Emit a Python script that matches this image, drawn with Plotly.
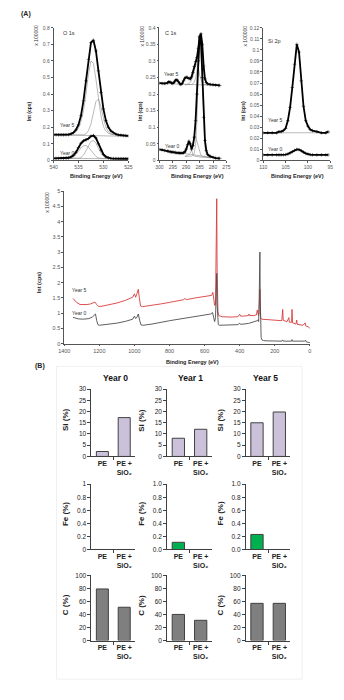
import plotly.graph_objects as go

W, H = 344, 700
FONT = "Liberation Sans, Arial, sans-serif"

def px(x):
    return x / W

def py(y):
    return 1 - y / H

# ---------------- DATA ----------------
# O 1s (binding energy, eV)
o_x = [540, 539.5, 539, 538.5, 538, 537.5, 537, 536.5, 536, 535.5, 535, 534.5, 534, 533.5, 533,
       532.5, 532, 531.5, 531, 530.5, 530, 529.5, 529, 528.5, 528, 527.5, 527, 526.5, 526, 525.5, 525]
o_y5 = [0.155, 0.155, 0.154, 0.154, 0.154, 0.155, 0.156, 0.160, 0.168, 0.185, 0.215, 0.27, 0.36, 0.48, 0.61,
        0.71, 0.725, 0.66, 0.54, 0.41, 0.31, 0.24, 0.20, 0.178, 0.166, 0.158, 0.154, 0.152, 0.150, 0.149, 0.148]
o_y0 = [0.012, 0.012, 0.012, 0.013, 0.013, 0.014, 0.016, 0.021, 0.031, 0.050, 0.078, 0.103, 0.118, 0.124, 0.132,
        0.146, 0.150, 0.135, 0.100, 0.062, 0.036, 0.022, 0.015, 0.012, 0.011, 0.011, 0.010, 0.010, 0.010, 0.010, 0.010]
o_cx = [537, 536.5, 536, 535.5, 535, 534.5, 534, 533.5, 533, 532.5, 532, 531.5, 531, 530.5, 530, 529.5, 529, 528.5, 528]
o_y5_a = [0.157, 0.160, 0.165, 0.175, 0.195, 0.235, 0.30, 0.40, 0.52, 0.60, 0.585, 0.49, 0.37, 0.27, 0.205, 0.177, 0.163, 0.157, 0.154]
o_y5_b = [0.153, 0.153, 0.153, 0.153, 0.153, 0.153, 0.154, 0.160, 0.180, 0.22, 0.29, 0.355, 0.37, 0.325, 0.255, 0.20, 0.172, 0.160, 0.154]
o_y0_a = [0.013, 0.016, 0.022, 0.035, 0.056, 0.076, 0.088, 0.090, 0.080, 0.060, 0.040, 0.024, 0.015, 0.012, 0.011, 0.011, 0.011, 0.011, 0.011]
o_y0_b = [0.013, 0.013, 0.013, 0.013, 0.014, 0.018, 0.032, 0.058, 0.092, 0.115, 0.120, 0.104, 0.074, 0.045, 0.026, 0.016, 0.012, 0.011, 0.011]
o_bx = [540, 525]
o_b5 = [0.155, 0.145]
o_b0 = [0.012, 0.010]

# C 1s
c_x = [300, 299, 298, 297, 296.5, 296, 295.5, 295, 294.5, 294, 293.5, 293, 292.5, 292, 291.5, 291, 290.5, 290,
       289.5, 289, 288.5, 288, 287.5, 287, 286.5, 286, 285.5, 285, 284.5, 284, 283.5, 283, 282.5, 282, 281, 280,
       279, 278, 277.5]
c_y5 = [0.233, 0.232, 0.232, 0.234, 0.237, 0.236, 0.233, 0.232, 0.236, 0.242, 0.243, 0.238, 0.231, 0.229, 0.232,
        0.240, 0.248, 0.251, 0.250, 0.247, 0.246, 0.252, 0.265, 0.283, 0.298, 0.310, 0.338, 0.372, 0.382, 0.350,
        0.285, 0.246, 0.235, 0.231, 0.229, 0.228, 0.227, 0.226, 0.226]
c_y0 = [0.033, 0.032, 0.030, 0.028, 0.027, 0.026, 0.025, 0.025, 0.024, 0.024, 0.023, 0.023, 0.022, 0.022, 0.022,
        0.023, 0.026, 0.034, 0.048, 0.058, 0.050, 0.034, 0.045, 0.070, 0.120, 0.200, 0.300, 0.375, 0.360, 0.250,
        0.130, 0.060, 0.030, 0.018, 0.012, 0.009, 0.007, 0.006, 0.006]
c_cx = [290.5, 290, 289.5, 289, 288.5, 288, 287.5, 287, 286.5, 286, 285.5, 285, 284.5, 284, 283.5, 283, 282.5,
        282, 281.5, 281]
c_y5_a = [0.228, 0.228, 0.228, 0.228, 0.228, 0.229, 0.231, 0.236, 0.248, 0.270, 0.31, 0.36, 0.372, 0.335, 0.275,
          0.242, 0.232, 0.229, 0.228, 0.227]
c_y5_b = [0.229, 0.229, 0.230, 0.232, 0.235, 0.242, 0.255, 0.272, 0.285, 0.29, 0.28, 0.258, 0.240, 0.232, 0.229,
          0.228, 0.228, 0.228, 0.228, 0.227]
c_y0_a = [0.012, 0.012, 0.012, 0.012, 0.012, 0.013, 0.015, 0.022, 0.045, 0.12, 0.26, 0.36, 0.34, 0.22, 0.10,
          0.04, 0.018, 0.012, 0.010, 0.009]
c_y0_b = [0.012, 0.013, 0.015, 0.018, 0.022, 0.032, 0.052, 0.07, 0.072, 0.058, 0.038, 0.022, 0.015, 0.012, 0.011,
          0.010, 0.009, 0.009, 0.009, 0.008]
c_y0_c = [0.020, 0.032, 0.048, 0.056, 0.046, 0.030, 0.018, 0.013, 0.012, 0.011, 0.011, 0.010, 0.010, 0.010,
          0.009, 0.009, 0.009, 0.009, 0.008, 0.008]
c_bx5 = [300, 277.5]
c_b5 = [0.232, 0.226]
c_bx0 = [292, 277.5]
c_b0 = [0.022, 0.006]

# Si 2p
s_x = [110, 109, 108, 107, 106.5, 106, 105.5, 105, 104.5, 104, 103.5, 103, 102.5, 102, 101.5, 101, 100.5, 100,
       99.5, 99, 98, 97, 96, 95.5]
s_y5 = [0.025, 0.025, 0.025, 0.025, 0.026, 0.026, 0.027, 0.029, 0.036, 0.048, 0.066, 0.087, 0.105, 0.098, 0.072,
        0.049, 0.036, 0.031, 0.028, 0.027, 0.026, 0.025, 0.025, 0.026]
s_y0 = [0.005, 0.005, 0.005, 0.005, 0.005, 0.005, 0.0051, 0.0053, 0.0058, 0.0067, 0.0079, 0.0091, 0.0099, 0.0098,
        0.0089, 0.0075, 0.0063, 0.0056, 0.0052, 0.0051, 0.005, 0.005, 0.005, 0.005]
s_bx = [110, 95]
s_b5 = [0.025, 0.025]

# Survey
sv_x5 = [1350, 1330, 1310, 1290, 1270, 1250, 1235, 1225, 1215, 1205, 1190, 1150, 1100, 1050, 1010, 1000, 993,
         985, 978, 972, 965, 955, 900, 850, 800, 750, 720, 712, 705, 650, 600, 575, 560, 553, 548, 543, 538,
         533, 531, 529, 527, 524, 520, 510, 500, 450, 410, 400, 395, 380, 350, 347, 343, 320, 305, 300, 297,
         293, 290, 287, 285, 283, 281, 275, 250, 200, 160, 155, 152, 130, 120, 117, 104, 102, 99, 80, 75, 72,
         40, 27, 24, 10, 0]
sv_y5 = [1.48, 1.35, 1.28, 1.27, 1.28, 1.30, 1.33, 1.36, 1.28, 1.22, 1.22, 1.26, 1.33, 1.42, 1.52, 1.63, 1.52,
         1.65, 1.78, 1.50, 1.23, 1.21, 1.25, 1.30, 1.35, 1.40, 1.44, 1.48, 1.44, 1.50, 1.54, 1.57, 1.58, 1.68,
         1.45, 1.25, 1.30, 3.00, 4.75, 2.50, 1.30, 1.05, 0.92, 0.90, 0.88, 0.87, 0.88, 0.96, 0.90, 0.90, 0.92,
         0.97, 0.92, 0.92, 0.94, 1.10, 0.95, 0.92, 1.00, 1.50, 1.78, 1.20, 0.85, 0.80, 0.79, 0.77, 0.75, 1.12,
         0.76, 0.72, 0.85, 0.70, 0.70, 1.12, 0.68, 0.64, 0.77, 0.63, 0.60, 0.68, 0.58, 0.55, 0.50]
sv_x0 = [1350, 1320, 1290, 1260, 1240, 1228, 1222, 1215, 1208, 1200, 1150, 1100, 1050, 1010, 1000, 993, 985,
         978, 970, 962, 950, 900, 800, 700, 600, 565, 555, 548, 543, 538, 533, 531, 529, 526, 522, 515, 480,
         410, 400, 395, 350, 320, 300, 296, 292, 289, 287, 285, 283, 281, 278, 273, 265, 250, 200, 160, 155,
         152, 104, 102, 99, 30, 25, 22, 10, 0]
sv_y0 = [0.86, 0.81, 0.80, 0.82, 0.87, 0.93, 0.97, 0.75, 0.62, 0.60, 0.63, 0.67, 0.73, 0.80, 0.90, 0.82, 0.87,
         0.97, 0.75, 0.61, 0.60, 0.64, 0.75, 0.85, 0.94, 0.97, 1.02, 0.80, 0.72, 0.85, 1.80, 2.30, 1.30, 0.75,
         0.62, 0.60, 0.60, 0.62, 0.67, 0.63, 0.66, 0.70, 0.75, 0.78, 0.72, 1.50, 2.50, 3.00, 1.50, 0.50, 0.20,
         0.12, 0.10, 0.09, 0.08, 0.08, 0.12, 0.08, 0.08, 0.13, 0.08, 0.08, 0.11, 0.06, 0.04, 0.03]

# Bar data (B)
years = ["Year 0", "Year 1", "Year 5"]
categories = [0, 1]
cat_labels = ["<b>PE</b>", "<b>PE +<br>SiO\u2082</b>"]
si_pe = [2.2, 8.1, 15.0]
si_pesio2 = [17.3, 12.1, 19.8]
fe_pe = [0.0, 0.11, 0.23]
fe_pesio2 = [0.0, 0.0, 0.0]
c_pe = [79, 40, 57]
c_pesio2 = [51, 31, 57]

# ---------------- FIGURE ----------------
fig = go.Figure()
layout = {}
annotations = []
counter = [0]


def add_axes(xd, yd, xkw, ykw):
    counter[0] += 1
    i = counter[0]
    s = "" if i == 1 else str(i)
    layout["xaxis" + s] = dict(domain=[px(xd[0]), px(xd[1])], anchor="y" + s, **xkw)
    layout["yaxis" + s] = dict(domain=[py(yd[1]), py(yd[0])], anchor="x" + s, **ykw)
    return "x" + s, "y" + s


def ann(x, y, text, size, angle=0, xanchor="center", color="#333", yanchor="middle"):
    annotations.append(dict(x=px(x), y=py(y), xref="paper", yref="paper", text=text, showarrow=False,
                            font=dict(size=size, color=color, family=FONT), textangle=angle,
                            xanchor=xanchor, yanchor=yanchor))


def line(xa, ya, x, y, color="black", width=1.0, markers=False):
    fig.add_trace(go.Scatter(
        x=x, y=y, xaxis=xa, yaxis=ya, mode="lines+markers" if markers else "lines",
        line=dict(color=color, width=width),
        marker=dict(symbol="cross-thin", size=2.5, line=dict(width=0.5, color="black")),
        showlegend=False, hoverinfo="skip"))


AX = "#555555"
TF = dict(size=5, color="#555555", family=FONT)


def top_axes(xd, xr, yr, ydt):
    xkw = dict(range=xr, dtick=5, showline=True, linecolor=AX, linewidth=0.8, ticks="outside", ticklen=2,
               tickcolor=AX, tickwidth=0.6, tickfont=TF, showgrid=False, zeroline=False)
    ykw = dict(range=yr, dtick=ydt, tick0=0, showline=True, linecolor=AX, linewidth=0.8, ticks="outside",
               ticklen=2, tickcolor=AX, tickwidth=0.6, tickfont=TF, showgrid=False, zeroline=False)
    return add_axes(xd, [24, 158], xkw, ykw)


THIN = "#8c8c8c"
# Panel O 1s
xa, ya = top_axes([49, 126], [540, 525], [0, 0.8], 0.1)
line(xa, ya, o_bx, o_b5, THIN, 0.6)
line(xa, ya, o_bx, o_b0, THIN, 0.6)
line(xa, ya, o_cx, o_y5_a, THIN, 0.6)
line(xa, ya, o_cx, o_y5_b, THIN, 0.6)
line(xa, ya, o_cx, o_y0_a, THIN, 0.6)
line(xa, ya, o_cx, o_y0_b, THIN, 0.6)
line(xa, ya, o_x, o_y5, "black", 1.8, True)
line(xa, ya, o_x, o_y0, "black", 1.8, True)

# Panel C 1s
xa, ya = top_axes([158, 227], [300, 275], [0, 0.4], 0.05)
line(xa, ya, c_bx5, c_b5, THIN, 0.6)
line(xa, ya, c_bx0, c_b0, THIN, 0.6)
line(xa, ya, c_cx, c_y5_a, THIN, 0.6)
line(xa, ya, c_cx, c_y5_b, THIN, 0.6)
line(xa, ya, c_cx, c_y0_a, THIN, 0.6)
line(xa, ya, c_cx, c_y0_b, THIN, 0.6)
line(xa, ya, c_cx, c_y0_c, THIN, 0.6)
line(xa, ya, c_x, c_y5, "black", 1.8, True)
line(xa, ya, c_x, c_y0, "black", 1.8, True)

# Panel Si 2p
xa, ya = top_axes([265, 334], [110, 95], [0, 0.12], 0.01)
line(xa, ya, s_bx, s_b5, THIN, 0.6)
line(xa, ya, s_x, s_y5, "black", 1.8, True)
line(xa, ya, s_x, s_y0, "black", 1.8, True)

# Survey
xkw = dict(range=[1400, 0], dtick=200, showline=True, linecolor=AX, linewidth=0.8, ticks="outside", ticklen=2,
           tickcolor=AX, tickwidth=0.6, tickfont=dict(size=5.5, color="#555", family=FONT),
           showgrid=False, zeroline=False)
ykw = dict(range=[0, 5], dtick=0.5, tick0=0, showline=True, linecolor=AX, linewidth=0.8, ticks="outside",
           ticklen=2, tickcolor=AX, tickwidth=0.6, tickfont=dict(size=5.5, color="#555", family=FONT),
           showgrid=False, zeroline=False)
xa, ya = add_axes([60, 313], [189, 343], xkw, ykw)
line(xa, ya, sv_x5, sv_y5, "#d93c3c", 0.9)
line(xa, ya, sv_x0, sv_y0, "#4d4d4d", 0.9)

# Bars
col_x = [[88, 133], [166, 212], [247, 293]]
rows = [
    ("Si (%)", si_pe, si_pesio2, [0, 30], 5, "#ccc1da", [389, 457]),
    ("Fe (%)", fe_pe, fe_pesio2, [0, 1], 0.2, "#00b050", [485, 551]),
    ("C (%)", c_pe, c_pesio2, [0, 100], 20, "#7f7f7f", [577, 643]),
]
BL = "#404040"
for ri, (ttl, pe_vals, sio_vals, yr, dt, col, yd) in enumerate(rows):
    for ci in range(3):
        fmt = ".1f" if (ri == 1 and ci > 0) else ""
        xkw = dict(range=[-0.5, 1.5], tickmode="array", tickvals=categories, ticktext=cat_labels,
                   tickangle=0, ticks="", showline=True,
                   minor=dict(tickmode="array", tickvals=[0.5], ticks="outside", ticklen=3, tickcolor=BL,
                              showgrid=False),
                   linecolor=BL, linewidth=1, tickfont=dict(size=7, color="#222", family=FONT),
                   showgrid=False, zeroline=False)
        ykw = dict(range=yr, dtick=dt, tick0=0, tickformat=fmt, showline=True, linecolor=BL, linewidth=1,
                   ticks="outside", ticklen=3, tickcolor=BL, tickfont=dict(size=6.5, color="#222", family=FONT),
                   showgrid=False, zeroline=False)
        xa, ya = add_axes(col_x[ci], yd, xkw, ykw)
        fig.add_trace(go.Bar(x=categories, y=[pe_vals[ci], sio_vals[ci]], xaxis=xa, yaxis=ya, width=0.55,
                             marker=dict(color=col, line=dict(color=BL, width=1)),
                             showlegend=False, hoverinfo="skip"))
        yc = (yd[0] + yd[1]) / 2 - 3
        ann(col_x[ci][0] - 26, yc, "<b>" + ttl + "</b>", 8, angle=-90, color="#222")

# Column titles
for ci, xc in enumerate([113, 190, 267]):
    ann(xc, 378, "<b>" + years[ci] + "</b>", 8.5, color="#111")

# Panel labels
ann(13, 10, "<b>(A)</b>", 7, xanchor="left", color="#222")
ann(28, 366, "<b>(B)</b>", 7, xanchor="left", color="#222")

# Top panel texts
SM = 5
ann(57, 29, "O 1s", 5.5, xanchor="left")
ann(54, 122, "Year 5", SM, xanchor="left")
ann(54, 151, "Year 0", SM, xanchor="left")
ann(162, 29, "C 1s", 5.5, xanchor="left")
ann(161, 71, "Year 5", SM, xanchor="left")
ann(162, 143, "Year 0", SM, xanchor="left")
ann(268, 37, "Si 2p", 5.5, xanchor="left")
ann(268, 117, "Year 5", SM, xanchor="left")
ann(268, 146, "Year 0", SM, xanchor="left")
ann(66, 289, "Year 5", SM, xanchor="left")
ann(66, 312, "Year 0", SM, xanchor="left")

for xx in [31, 140, 246]:
    ann(xx, 32, "x 100000", SM, angle=-90)
ann(42, 200, "x 100000", SM, angle=-90)
for xx in [24, 138, 244]:
    ann(xx, 108, "<b>Int (cps)</b>", 5, angle=-90, color="#222")
ann(34, 281, "<b>Int (cps)</b>", 5.5, angle=-90, color="#222")

for xc in [93, 197, 300]:
    ann(xc, 174, "<b>Binding Energy (eV)</b>", 5.5, color="#222")
ann(192, 362, "<b>Binding Energy (eV)</b>", 5.5, color="#222")

shapes = [dict(type="rect", xref="paper", yref="paper", x0=px(52), x1=px(305), y0=py(682), y1=py(366),
               line=dict(color="#f0f0f0", width=1), fillcolor="rgba(0,0,0,0)", layer="below")]

fig.update_layout(width=W, height=H, autosize=False, margin=dict(l=0, r=0, t=0, b=0),
                  paper_bgcolor="white", plot_bgcolor="rgba(0,0,0,0)", annotations=annotations,
                  shapes=shapes, bargap=0.45, font=dict(family=FONT), **layout)

fig.write_html("out.html")
